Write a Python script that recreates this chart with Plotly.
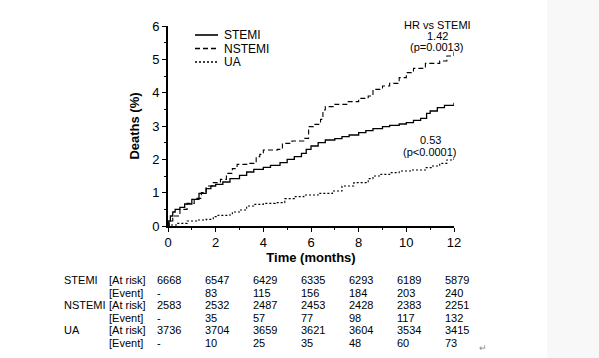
import plotly.graph_objects as go

# ---- data (time in months, cumulative deaths in %) ----
stemi_t = [0, 0.03, 0.1, 0.2, 0.3, 0.5, 0.7, 1.0, 1.3, 1.6, 1.8, 2.0, 2.3, 2.6, 3.0, 3.3, 3.6, 4.0, 4.3,
           4.7, 5.0, 5.3, 5.6, 5.8, 6.0, 6.3, 6.6, 7.0, 7.3, 7.6, 8.0, 8.3, 8.6, 9.0, 9.3, 9.7, 10.0,
           10.3, 10.6, 10.85, 11.0, 11.3, 11.6, 12.0]
stemi_v = [0, 0.15, 0.3, 0.42, 0.5, 0.56, 0.66, 0.8, 0.98, 1.12, 1.2, 1.25, 1.32, 1.42, 1.52, 1.62, 1.7,
           1.76, 1.82, 1.9, 2.0, 2.08, 2.18, 2.3, 2.4, 2.5, 2.58, 2.62, 2.68, 2.73, 2.8, 2.86, 2.92, 2.98,
           3.02, 3.06, 3.1, 3.17, 3.23, 3.38, 3.45, 3.55, 3.62, 3.7]

nstemi_t = [0, 0.05, 0.2, 0.5, 0.8, 1.1, 1.4, 1.6, 1.9, 2.2, 2.45, 2.7, 2.9, 3.4, 3.7, 3.85, 4.0, 4.6,
            4.8, 5.2, 5.7, 5.9, 6.1, 6.4, 6.5, 6.6, 7.0, 7.5, 8.0, 8.4, 8.6, 9.0, 9.3, 9.7, 10.0, 10.3,
            10.8, 11.4, 11.7, 12.0]
nstemi_v = [0, 0.15, 0.3, 0.5, 0.68, 0.83, 1.0, 1.2, 1.3, 1.4, 1.58, 1.72, 1.85, 1.88, 2.08, 2.15, 2.28,
            2.3, 2.48, 2.55, 2.63, 2.98, 3.05, 3.2, 3.48, 3.58, 3.65, 3.73, 3.83, 3.9, 4.1, 4.2, 4.28,
            4.45, 4.6, 4.73, 4.88, 4.95, 5.1, 5.23]

ua_t = [0, 0.1, 0.4, 0.8, 1.2, 1.6, 1.9, 2.1, 2.5, 2.7, 3.0, 3.3, 3.6, 4.0, 4.5, 4.9, 5.3, 5.7, 6.3,
        6.9, 7.3, 7.8, 8.2, 8.4, 8.6, 8.9, 9.3, 9.7, 10.2, 10.8, 11.1, 11.4, 11.7, 12.0]
ua_v = [0, 0.03, 0.08, 0.15, 0.18, 0.2, 0.28, 0.32, 0.33, 0.42, 0.48, 0.6, 0.65, 0.68, 0.7, 0.82, 0.88,
        0.93, 0.98, 1.05, 1.2, 1.3, 1.3, 1.42, 1.5, 1.55, 1.6, 1.65, 1.68, 1.75, 1.8, 1.88, 1.98, 2.03]

series_names = ["STEMI", "NSTEMI", "UA"]
x_ticks = [0, 2, 4, 6, 8, 10, 12]
y_ticks = [0, 1, 2, 3, 4, 5, 6]

hr_text = ["HR vs STEMI", "1.42", "(p=0.0013)"]
ua_hr_text = ["0.53", "(p<0.0001)"]

row_groups = ["STEMI", "", "NSTEMI", "", "UA", ""]
row_kinds = ["[At risk]", "[Event]", "[At risk]", "[Event]", "[At risk]", "[Event]"]
table_values = [
    ["6668", "6547", "6429", "6335", "6293", "6189", "5879"],
    ["-", "83", "115", "156", "184", "203", "240"],
    ["2583", "2532", "2487", "2453", "2428", "2383", "2251"],
    ["-", "35", "57", "77", "98", "117", "132"],
    ["3736", "3704", "3659", "3621", "3604", "3534", "3415"],
    ["-", "10", "25", "35", "48", "60", "73"],
]

# ---- layout geometry ----
W, H = 599, 358
L, R, T, B = 168, 145, 26, 132
PW, PH = W - L - R, H - T - B
FONT = "Liberation Sans, Arial, sans-serif"


def px(xp):
    return (xp - L) / PW


def py(yp):
    return (H - B - yp) / PH


fig = go.Figure()
styles = [dict(dash="solid", width=1.3), dict(dash="5px,3px", width=1.1), dict(dash="2px,2px", width=1.1)]
for name, t, v, st in zip(series_names, [stemi_t, nstemi_t, ua_t], [stemi_v, nstemi_v, ua_v], styles):
    fig.add_trace(go.Scatter(x=t, y=v, mode="lines", name=name, line_shape="hv",
                             line=dict(color="black", **st), showlegend=False))

ann = []
shapes = [dict(type="rect", xref="paper", yref="paper", x0=px(547), x1=px(600), y0=py(358), y1=py(0),
               fillcolor="#f8f8f8", line=dict(width=0), layer="below")]

# legend (drawn as key lines + labels)
leg_y = [35, 48.5, 62]
for name, st, yy in zip(series_names, styles, leg_y):
    shapes.append(dict(type="line", xref="paper", yref="paper", x0=px(195), x1=px(218), y0=py(yy), y1=py(yy),
                       line=dict(color="black", width=st["width"] + 0.3, dash=st["dash"])))
    ann.append(dict(x=px(222), y=py(yy), xref="paper", yref="paper", text=name, showarrow=False,
                    xanchor="left", yanchor="middle", font=dict(size=12, color="black", family=FONT)))

# HR annotations
for i, s in enumerate(hr_text):
    ann.append(dict(x=px(437), y=py(25 + i * 11), xref="paper", yref="paper", text=s, showarrow=False,
                    xanchor="center", yanchor="middle", font=dict(size=11, color="black", family=FONT)))
for i, s in enumerate(ua_hr_text):
    ann.append(dict(x=px(430), y=py(140 + i * 12), xref="paper", yref="paper", text=s, showarrow=False,
                    xanchor="center", yanchor="middle", font=dict(size=11, color="black", family=FONT)))

# number at risk table
row_y = [280, 292.5, 305, 317.5, 330, 342.5]
col_x = [155, 203, 251, 299, 347, 395, 443]
for r in range(6):
    yy = py(row_y[r])
    if row_groups[r]:
        ann.append(dict(x=px(62), y=yy, xref="paper", yref="paper", text=row_groups[r], showarrow=False,
                        xanchor="left", yanchor="middle", font=dict(size=11, color="black", family=FONT)))
    ann.append(dict(x=px(107), y=yy, xref="paper", yref="paper", text=row_kinds[r], showarrow=False,
                    xanchor="left", yanchor="middle", font=dict(size=11, color="black", family=FONT)))
    for c in range(7):
        ann.append(dict(x=px(col_x[c]), y=yy, xref="paper", yref="paper", text=table_values[r][c],
                        showarrow=False, xanchor="left", yanchor="middle",
                        font=dict(size=11, color="black", family=FONT)))
ann.append(dict(x=px(483), y=py(348), xref="paper", yref="paper", text="↵", showarrow=False,
                xanchor="center", yanchor="middle", font=dict(size=9, color="#888888", family=FONT)))

fig.update_layout(
    width=W, height=H, autosize=False,
    margin=dict(l=L, r=R, t=T, b=B, pad=0),
    paper_bgcolor="white", plot_bgcolor="white",
    font=dict(family=FONT, color="black", size=12),
    showlegend=False,
    annotations=ann,
    shapes=shapes,
)
fig.update_xaxes(range=[0, 12], tickvals=x_ticks, ticktext=[str(v) for v in x_ticks],
                 showline=True, linecolor="black", linewidth=1.6, mirror=False,
                 ticks="outside", ticklen=4, tickwidth=1.3, tickcolor="black",
                 minor=dict(ticks="outside", dtick=1, ticklen=2.5, tickwidth=1, tickcolor="black"),
                 showgrid=False, zeroline=False, tickfont=dict(size=13, family=FONT),
                 title=dict(text="<b>Time (months)</b>", font=dict(size=13, family=FONT), standoff=2))
fig.update_yaxes(range=[0, 6], tickvals=y_ticks, ticktext=[str(v) for v in y_ticks],
                 showline=True, linecolor="black", linewidth=1.6,
                 ticks="outside", ticklen=4, tickwidth=1.3, tickcolor="black",
                 minor=dict(ticks="outside", dtick=0.5, ticklen=2.5, tickwidth=1, tickcolor="black"),
                 showgrid=False, zeroline=False, tickfont=dict(size=13, family=FONT),
                 title=dict(text="<b>Deaths (%)</b>", font=dict(size=13, family=FONT), standoff=10))

fig.write_html("out.html", config={"displayModeBar": False},
               post_script="document.body.style.margin='0';")
